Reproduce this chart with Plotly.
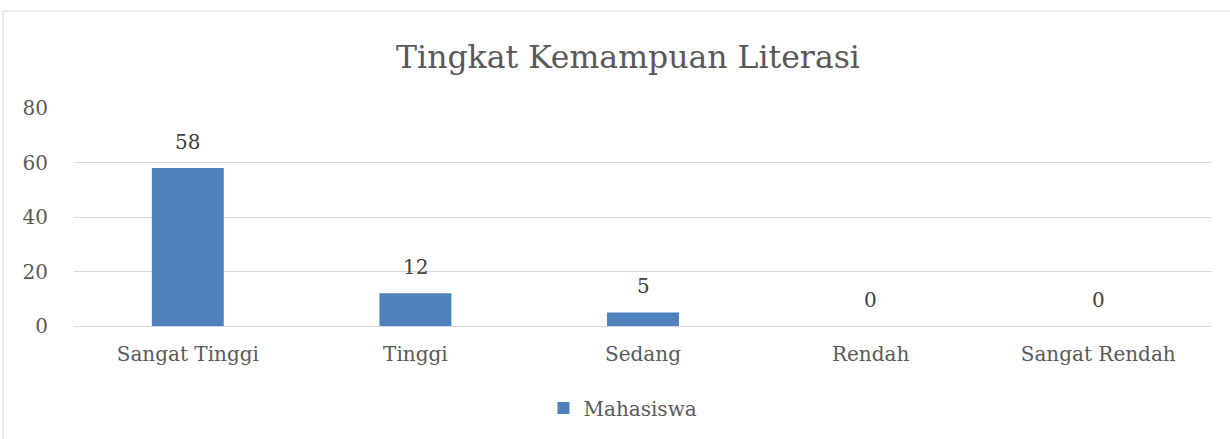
import plotly.graph_objects as go

categories = ["Sangat Tinggi", "Tinggi", "Sedang", "Rendah", "Sangat Rendah"]
values = [58, 12, 5, 0, 0]
series_name = "Mahasiswa"
title_text = "Tingkat Kemampuan Literasi"
y_ticks = [0, 20, 40, 60, 80]

FONT = "DejaVu Serif"
GRAY = "#595959"
BAR = "#4f81bd"

W, H = 1230, 439
L, R, T, B = 74, 18, 108, 113
pw, ph = W - L - R, H - T - B

def px_x(x):
    return (x - L) / pw

def px_y(y):
    return (H - B - y) / ph

fig = go.Figure()
fig.add_trace(go.Bar(x=categories, y=values, name=series_name,
                     marker=dict(color=BAR, line=dict(width=0)),
                     showlegend=True))

for c, v in zip(categories, values):
    fig.add_annotation(x=c, y=v, xref="x", yref="y", text=str(v), showarrow=False,
                       yanchor="middle", yshift=26,
                       font=dict(family=FONT, size=20, color="#404040"))

fig.add_shape(type="rect", xref="paper", yref="paper",
              x0=px_x(3), x1=px_x(1300), y0=px_y(11), y1=px_y(500),
              line=dict(color="#d9d9d9", width=1), fillcolor="rgba(0,0,0,0)", layer="below")

fig.update_layout(
    width=W, height=H,
    margin=dict(l=L, r=R, t=T, b=B, pad=0),
    paper_bgcolor="white", plot_bgcolor="white",
    font=dict(family=FONT, color=GRAY, size=20),
    title=dict(text=title_text, xref="container", yref="container",
               x=628 / W, y=1 - 57 / H, xanchor="center", yanchor="middle",
               font=dict(family=FONT, size=31.5, color=GRAY)),
    bargap=0.684,
    showlegend=True,
    legend=dict(orientation="h", x=px_x(623), y=px_y(408), xanchor="center", yanchor="middle",
                font=dict(family=FONT, size=20, color=GRAY)),
    xaxis=dict(showgrid=False, showline=False, zeroline=False, ticks="",
               ticklabelstandoff=14, tickfont=dict(family=FONT, size=20, color=GRAY)),
    yaxis=dict(range=[0, 80], tickvals=y_ticks, showgrid=True, gridcolor="#d9d9d9", gridwidth=1,
               zeroline=True, zerolinecolor="#d9d9d9", zerolinewidth=1, showline=False,
               ticklabelstandoff=25, tickfont=dict(family=FONT, size=20, color=GRAY)),
)

fig.write_html("out.html", config={"displayModeBar": False},
               post_script="document.body.style.margin='0';document.body.style.overflow='hidden';")
